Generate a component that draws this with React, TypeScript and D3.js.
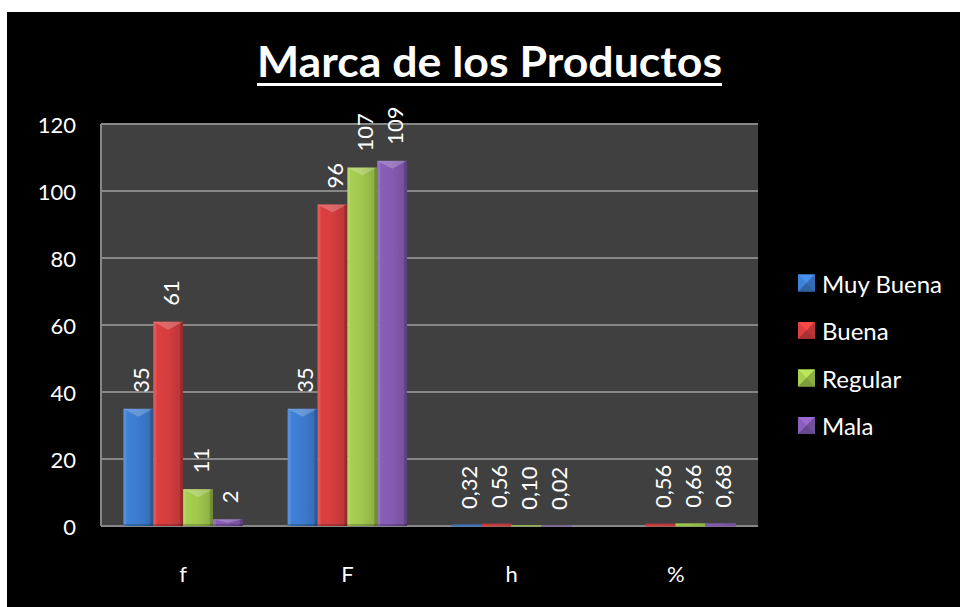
import React from "react";
import * as d3 from "d3";

const categories = ["f", "F", "h", "%"];
const seriesNames = ["Muy Buena", "Buena", "Regular", "Mala"];
const muyBuena: (number | null)[] = [35, 35, 0.32, null];
const buena: (number | null)[] = [61, 96, 0.56, 0.56];
const regular: (number | null)[] = [11, 107, 0.1, 0.66];
const mala: (number | null)[] = [2, 109, 0.02, 0.68];
const yTicks = [0, 20, 40, 60, 80, 100, 120];
const seriesColors = ["#3b79c9", "#cf3c3c", "#9cc24b", "#8059ad"];

const seriesValues = [muyBuena, buena, regular, mala];

const W = 960;
const H = 607;
const FONT = "Lato, 'Open Sans', sans-serif";

function fmt(v: number) {
  if (Number.isInteger(v)) return String(v);
  return v.toFixed(2).replace(".", ",");
}

export default function App() {
  const plotL = 101, plotR = 758, plotT = 124, plotB = 526;
  const x0 = d3
    .scaleBand<string>()
    .domain(categories)
    .range([plotL, plotR])
    .paddingInner(1.5 / 5.5)
    .paddingOuter(0.75 / 5.5);
  const x1 = d3.scaleBand<string>().domain(seriesNames).range([0, x0.bandwidth()]);
  const y = d3.scaleLinear().domain([0, 120]).range([plotB, plotT]);

  const bars: React.ReactNode[] = [];
  const labels: React.ReactNode[] = [];
  categories.forEach((c, ci) => {
    seriesNames.forEach((s, si) => {
      const v = seriesValues[si][ci];
      if (v === null || v === undefined) return;
      const bx = (x0(c) as number) + (x1(s) as number);
      const bw = x1.bandwidth();
      const by = y(v);
      const bh = plotB - by;
      const col = seriesColors[si];
      const bev = Math.min(8, bh / 2);
      const side = Math.min(3, bw / 6);
      const big = bh > 6;
      bars.push(
        <g key={`b-${ci}-${si}`}>
          <rect
            x={bx}
            y={by}
            width={bw}
            height={bh}
            fill={`url(#grad-${si})`}
            stroke={big ? "none" : d3.color(col)!.darker(0.2).formatHex()}
            strokeWidth={1}
          />
          {big && (
            <>
              <polygon
                points={`${bx},${by} ${bx + bw},${by} ${bx + bw / 2},${by + bev}`}
                fill="#ffffff"
                opacity={0.22}
              />
              <rect x={bx} y={by} width={side} height={bh} fill="#ffffff" opacity={0.12} />
              <rect x={bx + bw - side} y={by} width={side} height={bh} fill="#000000" opacity={0.18} />
              <rect x={bx} y={plotB - 2} width={bw} height={2} fill="#000" opacity={0.2} />
            </>
          )}
        </g>
      );
      const lx = bx + bw / 2 + 2;
      const ly = by - 16;
      labels.push(
        <text
          key={`l-${ci}-${si}`}
          transform={`translate(${lx},${ly}) rotate(-90)`}
          textAnchor="start"
          dominantBaseline="central"
          fill="#ffffff"
          fontSize={22}
          fontFamily={FONT}
        >
          {fmt(v)}
        </text>
      );
    });
  });

  return (
    <svg width={W} height={H} style={{ position: "absolute", left: 0, top: 0 }}>
      <defs>
        {seriesColors.map((c, i) => {
          const base = d3.color(c)!;
          return (
            <linearGradient key={i} id={`grad-${i}`} x1="0" x2="1" y1="0" y2="0">
              <stop offset="0" stopColor={base.brighter(0.2).formatHex()} />
              <stop offset="0.45" stopColor={base.brighter(0.1).formatHex()} />
              <stop offset="1" stopColor={base.darker(0.35).formatHex()} />
            </linearGradient>
          );
        })}
      </defs>
      <rect x={0} y={0} width={W} height={H} fill="#ffffff" />
      <rect x={7} y={12} width={W - 7} height={H - 12} fill="#000000" />

      {/* title */}
      <text
        x={257}
        y={77}
        fill="#ffffff"
        fontSize={42}
        fontWeight="bold"
        fontFamily={FONT}
        textLength={465}
        lengthAdjust="spacingAndGlyphs"
      >
        Marca de los Productos
      </text>
      <line x1={257} x2={722} y1={84.5} y2={84.5} stroke="#ffffff" strokeWidth={3} />

      {/* plot area */}
      <rect x={plotL} y={plotT} width={plotR - plotL} height={plotB - plotT} fill="#404040" />
      {yTicks.map((t) => (
        <line
          key={`g-${t}`}
          x1={plotL}
          x2={plotR}
          y1={y(t)}
          y2={y(t)}
          stroke="#878787"
          strokeWidth={2}
        />
      ))}
      <line x1={plotL} x2={plotL} y1={plotT} y2={plotB} stroke="#878787" strokeWidth={2} />

      {bars}
      {labels}

      {/* y axis labels */}
      {yTicks.map((t) => (
        <text
          key={`yt-${t}`}
          x={76}
          y={y(t)}
          textAnchor="end"
          dominantBaseline="central"
          fill="#ffffff"
          fontSize={22}
          fontFamily={FONT}
        >
          {t}
        </text>
      ))}

      {/* x axis labels */}
      {categories.map((c) => (
        <text
          key={`xt-${c}`}
          x={(x0(c) as number) + x0.bandwidth() / 2}
          y={573}
          textAnchor="middle"
          dominantBaseline="central"
          fill="#ffffff"
          fontSize={22}
          fontFamily={FONT}
        >
          {c}
        </text>
      ))}

      {/* legend */}
      {seriesNames.map((s, i) => {
        const cy = 283 + i * 47.5;
        const sx = 798, sz = 17;
        const sy = cy - sz / 2;
        const col = seriesColors[i];
        const base = d3.color(col)!;
        const cx = sx + sz / 2;
        return (
          <g key={`lg-${s}`}>
            <rect x={sx} y={sy} width={sz} height={sz} fill={col} />
            <polygon points={`${sx},${sy} ${sx + sz},${sy} ${cx},${cy}`} fill={base.brighter(0.5).formatHex()} />
            <polygon points={`${sx},${sy} ${sx},${sy + sz} ${cx},${cy}`} fill={base.brighter(0.2).formatHex()} />
            <polygon points={`${sx + sz},${sy} ${sx + sz},${sy + sz} ${cx},${cy}`} fill={base.darker(0.3).formatHex()} />
            <polygon points={`${sx},${sy + sz} ${sx + sz},${sy + sz} ${cx},${cy}`} fill={base.darker(0.6).formatHex()} />
            <text
              x={822}
              y={cy}
              dominantBaseline="central"
              fill="#ffffff"
              fontSize={24}
              fontFamily={FONT}
            >
              {s}
            </text>
          </g>
        );
      })}
    </svg>
  );
}
